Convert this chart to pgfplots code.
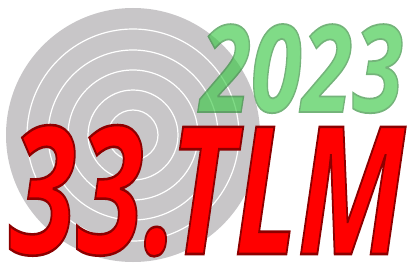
\documentclass[border=0pt]{standalone}
\usepackage{pgfplots}
\pgfplotsset{compat=1.18}
\usepackage{fontspec}
\newfontfamily\logofont{Open Sans}
\definecolor{ringgrey}{RGB}{200,198,200}
\definecolor{tlmred}{RGB}{255,0,0}
\definecolor{yrgreen}{RGB}{60,200,70}
\begin{document}
\begin{tikzpicture}
\begin{axis}[scale only axis, width=410bp, height=264bp,
  xmin=0, xmax=410, ymin=0, ymax=264, y dir=reverse,
  hide axis, clip=false]
% target disc
\fill[ringgrey] (axis cs:133,135) circle [radius=127];
\draw[white, line width=1.2bp] (axis cs:133,135) circle [radius=25];
\draw[white, line width=1.2bp] (axis cs:133,135) circle [radius=45];
\draw[white, line width=1.2bp] (axis cs:133,135) circle [radius=65];
\draw[white, line width=1.2bp] (axis cs:133,135) circle [radius=85];
\draw[white, line width=1.2bp] (axis cs:133,135) circle [radius=106];
% 2023
\begin{scope}[transparency group, opacity=0.65]
\node[anchor=base west, inner sep=0pt, outer sep=0pt] at (axis cs:200,112)
  {\resizebox{203bp}{88bp}{\fontsize{123bp}{130bp}\selectfont\logofont\bfseries\itshape
   \color{yrgreen}\special{pdf:literal direct 2 Tr 1.8 w 0.16 0.55 0.2 RG}2023\special{pdf:literal direct 0 Tr}}};
\end{scope}
% 33.TLM
\node[anchor=base west, inner sep=0pt, outer sep=0pt] at (axis cs:9,254)
  {\resizebox{396bp}{129bp}{\fontsize{180bp}{190bp}\selectfont\logofont\bfseries\itshape
   \color{tlmred}\special{pdf:literal direct 2 Tr 2.6 w 0.55 0 0 RG}33.TLM\special{pdf:literal direct 0 Tr}}};
\end{axis}
\pgfresetboundingbox
\useasboundingbox (current axis.south west) rectangle (current axis.north east);
\end{tikzpicture}
\end{document}
